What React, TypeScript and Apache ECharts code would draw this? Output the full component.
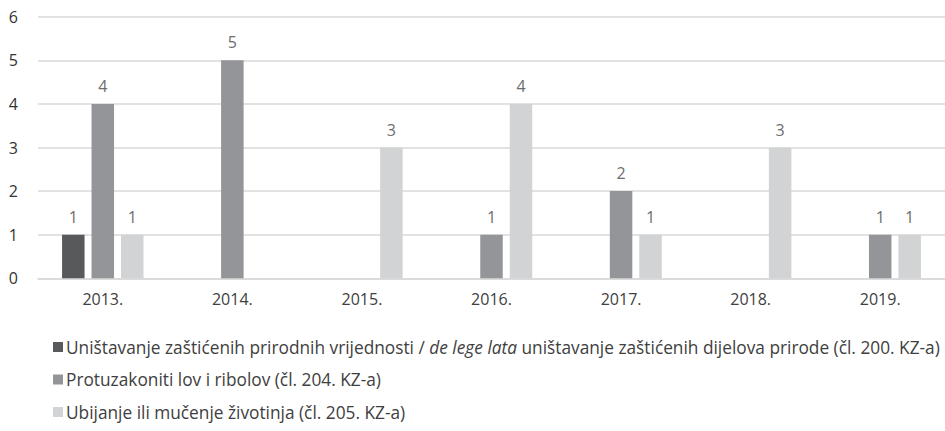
import React, { useEffect, useRef } from "react";
import * as echarts from "echarts";

const categories = ["2013.", "2014.", "2015.", "2016.", "2017.", "2018.", "2019."];
const seriesNames = [
  "Uništavanje zaštićenih prirodnih vrijednosti / de lege lata uništavanje zaštićenih dijelova prirode (čl. 200. KZ-a)",
  "Protuzakoniti lov i ribolov (čl. 204. KZ-a)",
  "Ubijanje ili mučenje životinja (čl. 205. KZ-a)",
];
const unistavanje = [1, null, null, null, null, null, null];
const lovRibolov = [4, 5, null, 1, 2, null, 1];
const ubijanje = [1, null, 3, 4, 1, 3, 1];
const yTicks = [0, 1, 2, 3, 4, 5, 6];
const colors = ["#58595b", "#939598", "#d1d3d4"];

const FONT = "Open Sans";
const legendRowCenters = [347, 379.5, 412];

export default function App() {
  const ref = useRef<HTMLDivElement>(null);
  useEffect(() => {
    if (!ref.current) return;
    const chart = echarts.init(ref.current, null, { renderer: "svg" });
    const values = [unistavanje, lovRibolov, ubijanje];
    chart.setOption({
      animation: false,
      textStyle: { fontFamily: FONT },
      grid: { left: 38, top: 16.7, width: 914, height: 261.6, containLabel: false },
      xAxis: {
        type: "category",
        data: categories,
        axisLine: { show: true, lineStyle: { color: "#d9d9d9", width: 1.5 } },
        axisTick: { show: false },
        axisLabel: { color: "#404040", fontSize: 16, fontFamily: FONT, margin: 13 },
      },
      yAxis: {
        type: "value",
        min: yTicks[0],
        max: yTicks[yTicks.length - 1],
        interval: 1,
        axisLine: { show: false },
        axisTick: { show: false },
        splitLine: { lineStyle: { color: "#d9d9d9", width: 1.5 } },
        axisLabel: { color: "#333333", fontSize: 16, fontFamily: FONT, margin: 20 },
      },
      legend: seriesNames.map((n, i) => ({
        orient: "horizontal",
        left: 53,
        top: legendRowCenters[i] - 11,
        padding: 0,
        itemWidth: 10,
        itemHeight: 10,
        icon: "rect",
        textStyle: {
          color: "#404040",
          fontSize: 17.3,
          fontFamily: FONT,
          lineHeight: 22,
          padding: [0, 0, 0, -2],
          rich: {
            i: { fontStyle: "italic", color: "#404040", fontSize: 17.3, fontFamily: FONT, lineHeight: 22 },
          },
        },
        formatter: (name: string) => {
          const key = "de lege lata";
          const idx = name.indexOf(key);
          if (idx < 0) return name;
          return name.slice(0, idx) + "{i|" + key + "}" + name.slice(idx + key.length);
        },
        data: [n],
      })),
      series: seriesNames.map((n, i) => ({
        name: n,
        type: "bar",
        data: values[i],
        barWidth: 22.5,
        barGap: "31%",
        itemStyle: { color: colors[i] },
        label: {
          show: true,
          position: "top",
          distance: 10,
          color: "#6d6d6d",
          fontSize: 16,
          fontFamily: FONT,
        },
      })),
    });
    return () => chart.dispose();
  }, []);
  return (
    <div
      ref={ref}
      style={{ position: "fixed", left: 0, top: 0, width: 945, height: 431, background: "#fff" }}
    />
  );
}
